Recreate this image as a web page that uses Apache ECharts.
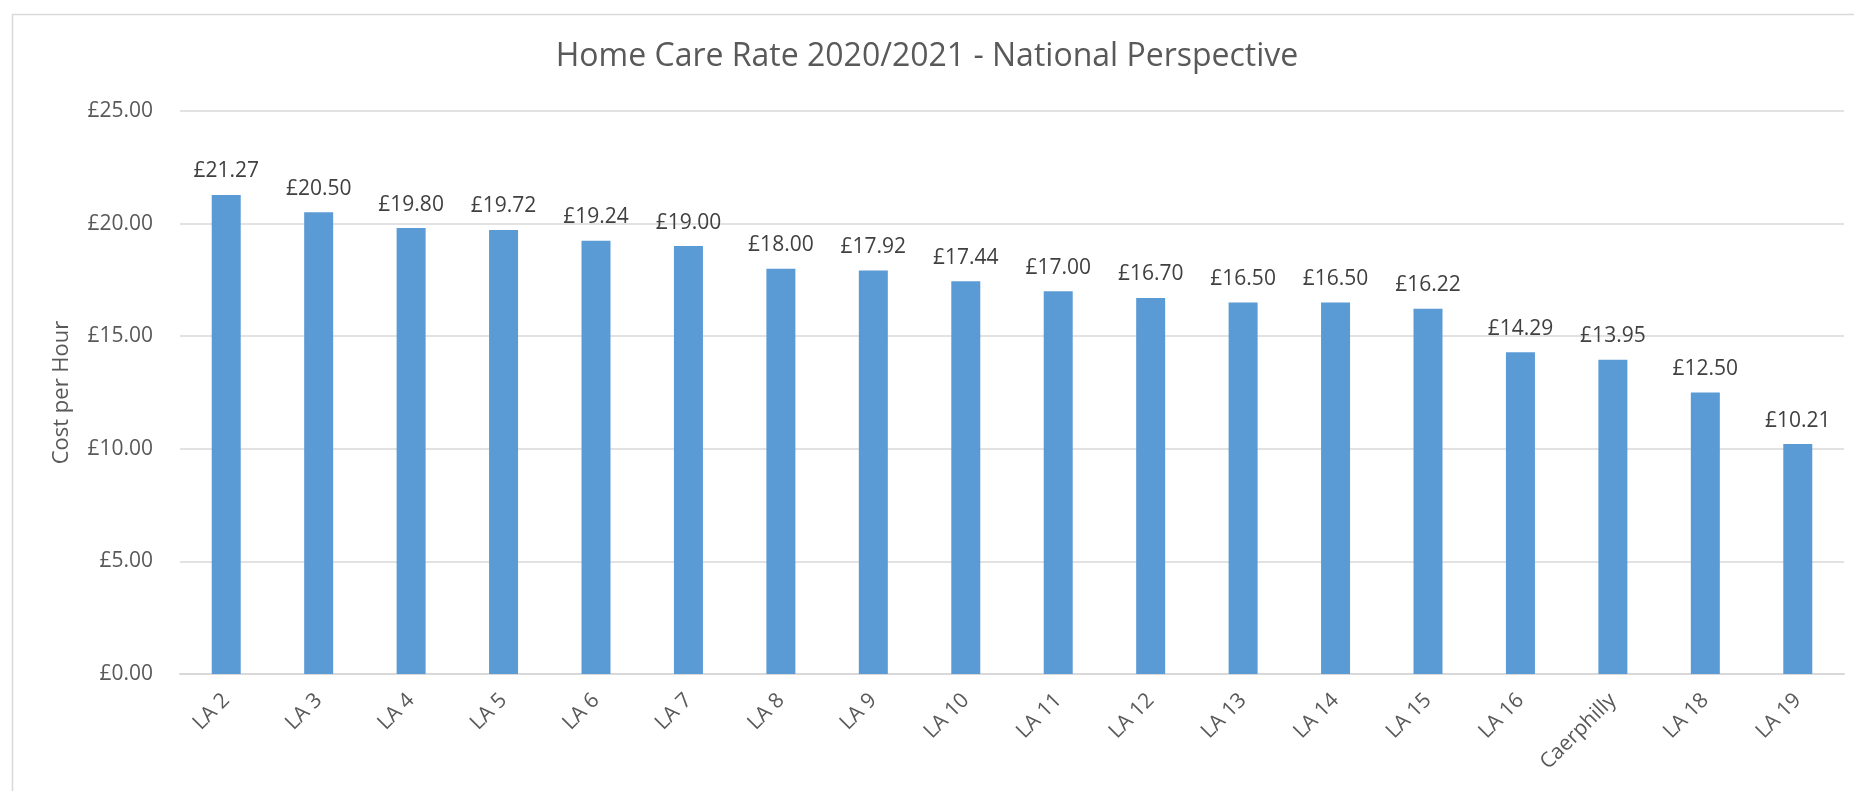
<!DOCTYPE html>
<html>
<head>
<meta charset="utf-8">
<title>Home Care Rate 2020/2021</title>
<script src="https://cdn.jsdelivr.net/npm/echarts@6/dist/echarts.min.js"></script>
<style>
    html, body { margin: 0; padding: 0; background: #fff; }
    #chart { width: 1854px; height: 791px; }
</style>
</head>
<body>
<div id="chart"></div>
<script>
// data
var categories = [
    "LA 2", "LA 3", "LA 4", "LA 5", "LA 6", "LA 7", "LA 8", "LA 9", "LA 10",
    "LA 11", "LA 12", "LA 13", "LA 14", "LA 15", "LA 16", "Caerphilly", "LA 18", "LA 19"
];
var costPerHour = [
    21.27, 20.50, 19.80, 19.72, 19.24, 19.00, 18.00, 17.92, 17.44,
    17.00, 16.70, 16.50, 16.50, 16.22, 14.29, 13.95, 12.50, 10.21
];
var yTicks = { min: 0, max: 25, interval: 5 };

var textColor = "#595959";
var font = "'Open Sans', 'Noto Sans', sans-serif";

function pounds(v) {
    return "£" + Number(v).toFixed(2);
}

var chart = echarts.init(document.getElementById("chart"));

chart.setOption({
    animation: false,
    backgroundColor: "#fff",
    textStyle: { fontFamily: font },
    graphic: [
        {
            // outer chart border (runs off the right and bottom)
            type: "rect",
            left: 10,
            top: 12,
            shape: { width: 1900, height: 900 },
            style: { fill: "none", stroke: "#D9D9D9", lineWidth: 1.5 },
            silent: true
        }
    ],
    title: {
        text: "Home Care Rate 2020/2021 - National Perspective",
        left: "center",
        top: 36,
        textStyle: {
            color: textColor,
            fontSize: 32,
            fontWeight: "normal",
            fontFamily: font
        }
    },
    grid: {
        left: 180,
        right: 10,
        top: 111,
        bottom: 117
    },
    xAxis: {
        type: "category",
        data: categories,
        axisLine: { lineStyle: { color: "#D9D9D9", width: 2 } },
        axisTick: { show: false },
        axisLabel: {
            rotate: 45,
            margin: 23,
            color: textColor,
            fontSize: 21,
            fontFamily: font
        }
    },
    yAxis: {
        type: "value",
        min: yTicks.min,
        max: yTicks.max,
        interval: yTicks.interval,
        name: "Cost per Hour",
        nameLocation: "middle",
        nameGap: 107,
        nameTextStyle: {
            color: textColor,
            fontSize: 22,
            fontFamily: font
        },
        axisLine: { show: false },
        axisTick: { show: false },
        splitLine: { lineStyle: { color: "#D9D9D9", width: 1.5 } },
        axisLabel: {
            margin: 27,
            color: textColor,
            fontSize: 21,
            fontFamily: font,
            formatter: pounds
        }
    },
    series: [
        {
            type: "bar",
            data: costPerHour,
            barWidth: 29,
            itemStyle: { color: "#5B9BD5" },
            label: {
                show: true,
                position: "top",
                distance: 13,
                color: "#404040",
                fontSize: 21,
                fontFamily: font,
                formatter: function (p) {
                    return pounds(p.value);
                }
            }
        }
    ]
});
</script>
</body>
</html>
